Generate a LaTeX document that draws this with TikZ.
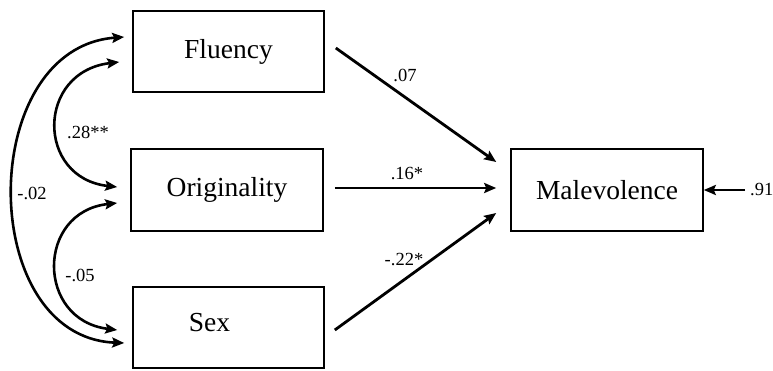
\documentclass[tikz,border=0pt]{standalone}
\usepackage{fontspec}
\setmainfont{Liberation Serif}
\usetikzlibrary{arrows.meta,calc}
\begin{document}
\begin{tikzpicture}[x=1pt,y=1pt,
  box/.style={draw,line width=1.6pt,minimum width=191pt,minimum height=81pt,inner sep=0pt,font=\fontsize{27.5}{30}\selectfont},
  lbl/.style={font=\fontsize{18.5}{20}\selectfont,inner sep=0pt},
  path/.style={line width=2.8pt,-{Stealth[length=12pt,width=10pt,inset=2pt]}},
  cov/.style={line width=2.6pt,{Stealth[length=12pt,width=10pt,inset=2pt]}-{Stealth[length=12pt,width=10pt,inset=2pt]}}]
\useasboundingbox (0,0) rectangle (773,370);
\node[box] (flu) at (228.5,318.5) {Fluency};
\node[box,minimum width=192pt,minimum height=82pt] (ori) at (227,180) {Originality};
\node[box] (sex) at (228.5,42.5) {};
\node[font=\fontsize{27.5}{30}\selectfont,inner sep=0pt] (sextext) at (209.5,47) {Sex};
\node[box,minimum width=192pt,minimum height=82pt] (mal) at (607,180) {Malevolence};
% paths
\draw[path] ($(flu.east)+(11,3.5)$) -- ($(mal.west)+(-14,28)$);
\draw[path] ($(ori.east)+(11,2)$) -- ($(mal.west)+(-14,2)$);
\draw[path] ($(sex.east)+(10,-2.5)$) -- ($(mal.west)+(-14,-23)$);
\coordinate (res) at (745,180);
\draw[path] (res) -- (mal.east);
% covariances
\draw[cov] ($(sex.west)+(-8,-15.5)$) .. controls (-24,33) and (-24,322) .. ($(flu.west)+(-8,14.5)$);
\draw[cov] ($(ori.west)+(-13,3)$) .. controls (36,192) and (36,298) .. ($(flu.west)+(-13,-10.5)$);
\draw[cov] ($(sex.west)+(-15,-2.5)$) .. controls (36,50) and (36,158) .. ($(ori.west)+(-13,-13)$);
% labels
\node[lbl] (l1) at (32,177) {-.02};
\node[lbl] (l2) at (88,238) {.28**};
\node[lbl] (l3) at (80,95) {-.05};
\node[lbl] (l4) at (405,295) {.07};
\node[lbl] (l5) at (407,196) {.16*};
\node[lbl] (l6) at (404,110) {-.22*};
\node[lbl,anchor=west] (l7) at (750,180) {.91};
\end{tikzpicture}
\end{document}
